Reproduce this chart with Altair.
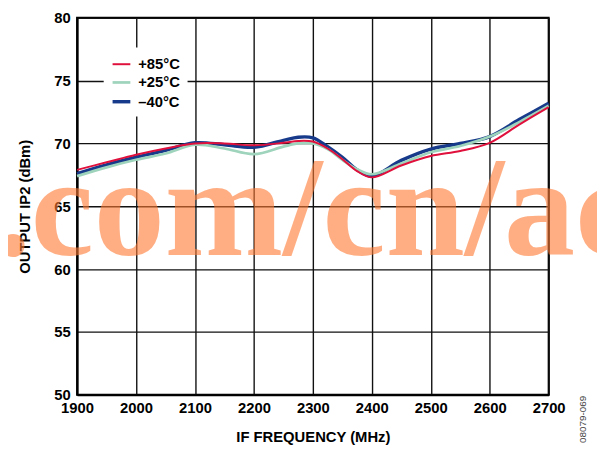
import altair as alt
import pandas as pd

# IF frequency (MHz)
freq = [1900, 1950, 2000, 2050, 2100, 2150, 2200, 2250, 2275, 2300, 2325, 2350, 2375,
        2400, 2450, 2500, 2550, 2600, 2650, 2700]
# Output IP2 (dBm) per temperature
ip2_p85 = [67.9, 68.5, 69.1, 69.6, 70.0, 70.0, 69.85, 70.05, 70.2, 70.15, 69.6, 68.75, 67.8,
           67.3, 68.25, 69.0, 69.4, 70.05, 71.5, 72.9]
ip2_p25 = [67.4, 68.1, 68.7, 69.2, 69.9, 69.6, 69.15, 69.75, 70.0, 70.0, 69.55, 68.7, 67.95,
           67.55, 68.4, 69.3, 69.8, 70.55, 71.7, 73.0]
ip2_m40 = [67.6, 68.3, 68.9, 69.45, 70.05, 69.9, 69.7, 70.25, 70.5, 70.45, 69.75, 68.9, 67.9,
           67.4, 68.65, 69.55, 70.0, 70.55, 71.9, 73.2]

series_labels = ["+85°C", "+25°C", "–40°C"]
series_colors = ["#E0103C", "#9ED3BC", "#173A8A"]
series_widths = [2.0, 3.5, 4.0]

x_ticks = [1900, 2000, 2100, 2200, 2300, 2400, 2500, 2600, 2700]
y_ticks = [50, 55, 60, 65, 70, 75, 80]

watermark = [".com/cn/ac"]
figure_id = ["08079-069"]

rows = []
# drawing order: -40, +25, +85 on top
for label, vals in [("–40°C", ip2_m40), ("+25°C", ip2_p25), ("+85°C", ip2_p85)]:
    for f, v in zip(freq, vals):
        rows.append({"freq": f, "ip2": v, "temp": label})
df = pd.DataFrame(rows)

FONT = "Liberation Sans"

lines = alt.Chart(df).mark_line(interpolate="catmull-rom").encode(
    x=alt.X("freq:Q",
            scale=alt.Scale(domain=[1900, 2700], nice=False),
            axis=alt.Axis(values=x_ticks, title="IF FREQUENCY (MHz)", format="d",
                          labelPadding=6, titlePadding=14, labelFlush=False)),
    y=alt.Y("ip2:Q",
            scale=alt.Scale(domain=[50, 80], nice=False),
            axis=alt.Axis(values=y_ticks, title="OUTPUT IP2 (dBm)",
                          labelPadding=7, titlePadding=22, labelFlush=False)),
    color=alt.Color("temp:N",
                    scale=alt.Scale(domain=series_labels, range=series_colors),
                    legend=alt.Legend(title=None, orient="none", legendX=27, legendY=30,
                                      symbolType="stroke", symbolSize=324,
                                      labelFont=FONT, labelFontSize=15,
                                      labelFontWeight="bold", labelColor="black",
                                      rowPadding=0, labelOffset=6,
                                      fillColor="white", padding=7)),
    strokeWidth=alt.StrokeWidth("temp:N",
                                scale=alt.Scale(domain=series_labels, range=series_widths),
                                legend=None),
    detail="temp:N",
)

wm = alt.Chart(pd.DataFrame({"t": watermark})).mark_text(
    font="Liberation Serif", fontWeight="bold", fontSize=144,
    color="#FF7A33", opacity=0.6, align="left", baseline="alphabetic",
).encode(x=alt.value(-83), y=alt.value(240), text="t:N")

fid = alt.Chart(pd.DataFrame({"t": figure_id})).mark_text(
    font=FONT, fontSize=10, color="#444444", angle=270,
    align="center", baseline="middle",
).encode(x=alt.value(513), y=alt.value(407), text="t:N")

chart = alt.layer(wm, lines, fid).properties(
    width=478, height=382,
    autosize=alt.AutoSizeParams(type="none"),
    padding={"left": 70, "top": 7, "right": 49, "bottom": 49},
).configure_view(
    stroke="black", strokeWidth=2,
).configure_axis(
    grid=True, gridColor="#111111", gridWidth=1.4, gridOpacity=1,
    domain=True, domainColor="black", domainWidth=2,
    ticks=False,
    labelFont=FONT, labelFontSize=15, labelFontWeight="bold", labelColor="black",
    titleFont=FONT, titleFontSize=15, titleFontWeight="bold", titleColor="black",
)

chart.save("out.html", embed_options={"renderer": "svg", "actions": False})
